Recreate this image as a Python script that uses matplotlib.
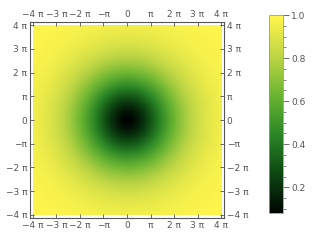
import matplotlib
matplotlib.use("Agg")
import matplotlib.pyplot as plt
import numpy as np
from matplotlib.colors import LinearSegmentedColormap

# tick positions in units of pi and their labels
tick_mult = [-4, -3, -2, -1, 0, 1, 2, 3, 4]
tick_labels = ["\u22124 \u03c0", "\u22123 \u03c0", "\u22122 \u03c0", "\u2212\u03c0", "0",
               "\u03c0", "2 \u03c0", "3 \u03c0", "4 \u03c0"]

# radial dip: value at centre, value far out, width, shape
center_value = 0.08
edge_value = 1.0
dip_width = 6.6
dip_shape = 1.7

cbar_ticks = [0.2, 0.4, 0.6, 0.8, 1.0]

# avocado-like colour ramp (black -> green -> yellow)
avocado = LinearSegmentedColormap.from_list("avocado", [
    (0.00, (0.00, 0.02, 0.01)),
    (0.20, (0.05, 0.28, 0.07)),
    (0.40, (0.17, 0.53, 0.15)),
    (0.60, (0.42, 0.71, 0.20)),
    (0.80, (0.75, 0.84, 0.27)),
    (1.00, (1.00, 0.96, 0.30)),
])

L = 4 * np.pi
x = np.linspace(-L, L, 300)
X, Y = np.meshgrid(x, x)
R = np.hypot(X, Y)
Z = edge_value - (edge_value - center_value) * np.exp(-(R / dip_width) ** dip_shape)

fig = plt.figure(figsize=(3.16, 2.44), dpi=100)
ax = fig.add_axes([0.0949, 0.1066, 0.614, 0.803])
cax = fig.add_axes([0.851, 0.127, 0.0443, 0.811])

im = ax.imshow(Z, extent=[-L, L, -L, L], origin="lower", cmap=avocado,
               vmin=Z.min(), vmax=Z.max(), interpolation="bilinear")
pad = 0.4
ax.set_xlim(-L - pad, L + pad)
ax.set_ylim(-L - pad, L + pad)
ax.set_aspect("auto")

grey = "#555555"
ticks = [m * np.pi for m in tick_mult]
ax.set_xticks(ticks)
ax.set_xticklabels(tick_labels)
ax.set_yticks(ticks)
ax.set_yticklabels(tick_labels)
ax.tick_params(direction="in", length=3, width=0.6, color=grey, labelcolor=grey,
               labelsize=6.5, pad=2, top=True, right=True, labeltop=True, labelright=True)
for s in ax.spines.values():
    s.set_color(grey)
    s.set_linewidth(0.8)

cb = fig.colorbar(im, cax=cax)
cb.set_ticks(cbar_ticks)
cb.set_ticklabels(["0.2", "0.4", "0.6", "0.8", "1.0"])
cb.ax.yaxis.set_minor_locator(matplotlib.ticker.MultipleLocator(0.05))
cb.ax.tick_params(which="major", length=4, width=0.6, color=grey, labelcolor=grey,
                  labelsize=6.5, pad=2)
cb.ax.tick_params(which="minor", length=2, width=0.5, color=grey)
cb.outline.set_edgecolor("#999999")
cb.outline.set_linewidth(0.6)

fig.savefig("out.png", dpi=100)
